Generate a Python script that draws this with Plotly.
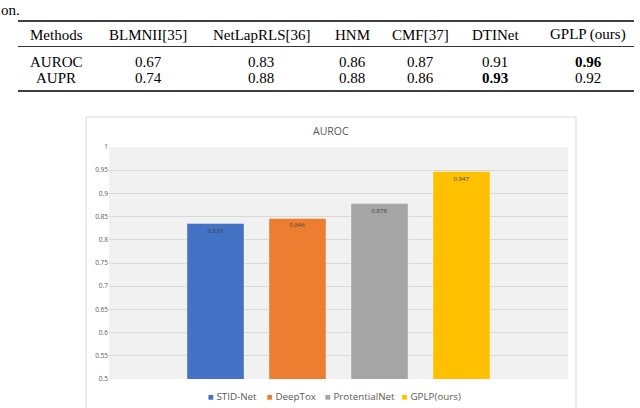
import plotly.graph_objects as go

# ---- bar chart data ----
models = ["STID-Net", "DeepTox", "ProtentialNet", "GPLP(ours)"]
auroc_values = [0.835, 0.846, 0.878, 0.947]
bar_colors = ["#4472C4", "#ED7D31", "#A5A5A5", "#FFC000"]
y_ticks = [0.5, 0.55, 0.6, 0.65, 0.7, 0.75, 0.8, 0.85, 0.9, 0.95, 1]
chart_title = "AUROC"

# ---- table data ----
table_methods = ["BLMNII[35]", "NetLapRLS[36]", "HNM", "CMF[37]", "DTINet", "GPLP (ours)"]
table_auroc = [0.67, 0.83, 0.86, 0.87, 0.91, 0.96]
table_aupr = [0.74, 0.88, 0.88, 0.86, 0.93, 0.92]
table_rows = ["AUROC", "AUPR"]

W, H = 640, 408
L, R, T, B = 109, 568, 147, 379


def px(x):
    return (x - L) / (R - L)


def py(y):
    return (B - y) / (B - T)


fig = go.Figure()
for name, val, col in zip(models, auroc_values, bar_colors):
    fig.add_trace(go.Bar(
        x=[chart_title], y=[val], name=name,
        marker=dict(color=col, line=dict(color="rgba(255,255,255,0.6)", width=0.6)),
        text=[f"{val:.3f}"], textposition="inside", insidetextanchor="end",
        textfont=dict(size=6, color="#404040", family="Open Sans"),
        constraintext="none", cliponaxis=False, showlegend=False,
    ))

shapes = []
ann = []

# outer chart frame
shapes.append(dict(type="rect", xref="paper", yref="paper",
                   x0=px(86), x1=px(576), y0=py(412), y1=py(117),
                   line=dict(color="#d9d9d9", width=1), layer="below"))

# chart title
ann.append(dict(text=chart_title, xref="paper", yref="paper", x=px(331), y=py(131),
                showarrow=False, xanchor="center", yanchor="middle",
                font=dict(size=10.5, color="#595959", family="Open Sans")))

# legend (manual, Excel style small squares)
leg_x = [206, 265, 323, 400]
for name, col, lx in zip(models, bar_colors, leg_x):
    ann.append(dict(text=f"<span style='color:{col}'>■</span> {name}", xref="paper", yref="paper",
                    x=px(lx), y=py(396), showarrow=False, xanchor="left", yanchor="middle",
                    font=dict(size=9.8, color="#595959", family="Open Sans")))

# table lines
tx0, tx1 = 18, 634
shapes.append(dict(type="line", xref="paper", yref="paper", x0=px(tx0), x1=px(tx1),
                   y0=py(21), y1=py(21), line=dict(color="black", width=1.4)))
shapes.append(dict(type="line", xref="paper", yref="paper", x0=px(tx0), x1=px(tx1),
                   y0=py(46.5), y1=py(46.5), line=dict(color="black", width=0.8)))
shapes.append(dict(type="line", xref="paper", yref="paper", x0=px(tx0), x1=px(tx1),
                   y0=py(91), y1=py(91), line=dict(color="black", width=1.4)))

col_x = [56, 148, 261, 352, 420, 495, 588]
tfont = dict(size=15, color="black", family="Liberation Serif")
ann.append(dict(text="Methods", xref="paper", yref="paper", x=px(col_x[0]), y=py(35),
                showarrow=False, xanchor="center", yanchor="middle", font=tfont))
for i, m in enumerate(table_methods):
    ann.append(dict(text=m, xref="paper", yref="paper", x=px(col_x[i + 1]), y=py(35),
                    showarrow=False, xanchor="center", yanchor="middle", font=tfont))
for rname, vals, yy in [(table_rows[0], table_auroc, 62), (table_rows[1], table_aupr, 78.5)]:
    ann.append(dict(text=rname, xref="paper", yref="paper", x=px(col_x[0]), y=py(yy),
                    showarrow=False, xanchor="center", yanchor="middle", font=tfont))
    best = max(vals)
    for i, v in enumerate(vals):
        s = f"{v:.2f}"
        if v == best:
            s = f"<b>{s}</b>"
        ann.append(dict(text=s, xref="paper", yref="paper", x=px(col_x[i + 1]), y=py(yy),
                        showarrow=False, xanchor="center", yanchor="middle", font=tfont))

# caption fragment at top-left
ann.append(dict(text="on.", xref="paper", yref="paper", x=px(-1), y=py(9.5),
                showarrow=False, xanchor="left", yanchor="middle", font=tfont))

fig.update_layout(
    width=W, height=H,
    margin=dict(l=L, r=W - R, t=T, b=H - B, pad=0, autoexpand=False),
    paper_bgcolor="white", plot_bgcolor="#f1f1f1",
    barmode="group", bargap=0.2854, bargroupgap=0.305,
    showlegend=False,
    xaxis=dict(showticklabels=False, showgrid=False, zeroline=False, showline=False),
    yaxis=dict(range=[0.5, 1], tickvals=y_ticks, showgrid=True, gridcolor="#d9d9d9",
               gridwidth=1, zeroline=False, showline=False, ticks="",
               tickfont=dict(size=6.5, color="#595959", family="Open Sans")),
    shapes=shapes, annotations=ann,
)

fig.write_html("out.html", config={"displayModeBar": False},
               post_script="document.body.style.margin='0';document.body.style.overflow='hidden';")
